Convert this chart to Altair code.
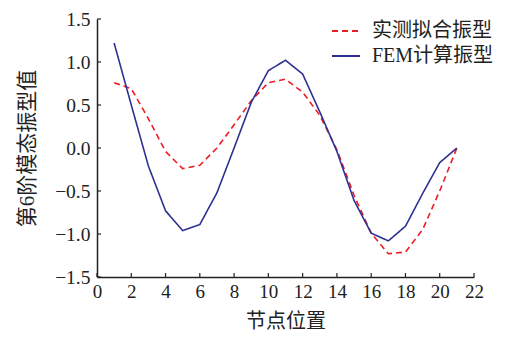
import altair as alt
import pandas as pd

nodes = list(range(1, 22))
measured = [0.76, 0.69, 0.34, -0.04, -0.24, -0.20, 0.0, 0.27, 0.55, 0.76, 0.80,
            0.65, 0.38, -0.02, -0.55, -0.99, -1.23, -1.21, -0.95, -0.50, 0.0]
fem = [1.22, 0.50, -0.21, -0.73, -0.96, -0.89, -0.52, 0.0, 0.53, 0.90, 1.02,
       0.86, 0.42, -0.04, -0.61, -0.99, -1.08, -0.91, -0.53, -0.17, 0.0]
series_names = ["实测拟合振型", "FEM计算振型"]
x_ticks = list(range(0, 23, 2))
y_ticks = [-1.5, -1.0, -0.5, 0.0, 0.5, 1.0, 1.5]

rows = []
for n, a, b in zip(nodes, measured, fem):
    rows.append({"node": n, "value": a, "series": series_names[0]})
    rows.append({"node": n, "value": b, "series": series_names[1]})
df = pd.DataFrame(rows)

W, H = 377, 258
FONT = "Liberation Serif, Noto Sans CJK SC"

xscale = alt.Scale(domain=[0, 22], nice=False, zero=False)
yscale = alt.Scale(domain=[-1.5, 1.5], nice=False, zero=False)

xaxis = alt.Axis(values=x_ticks, title="节点位置", tickSize=0,
                 labelPadding=5, titlePadding=10, grid=False,
                 labelFont=FONT, titleFont=FONT, labelFontSize=19,
                 titleFontSize=20, labelOverlap=False, labelFlush=False)
yaxis = alt.Axis(values=y_ticks, format=".1f", title="第6阶模态振型值",
                 tickSize=0, labelPadding=7, titlePadding=17, grid=False,
                 labelFont=FONT, titleFont=FONT, labelFontSize=19.5,
                 titleFontSize=21, labelOverlap=False, labelFlush=False)

leg = alt.Legend(title=None, orient="none", legendX=234, legendY=-3,
                 symbolType="stroke", symbolSize=784,
                 symbolStrokeWidth=1.8, labelFontSize=20,
                 labelFont=FONT, labelColor="#222",
                 labelOffset=11, rowPadding=0, labelLimit=300)

lines = alt.Chart(df).mark_line(strokeWidth=1.6).encode(
    x=alt.X("node:Q", scale=xscale, axis=xaxis),
    y=alt.Y("value:Q", scale=yscale, axis=yaxis),
    color=alt.Color("series:N",
                    scale=alt.Scale(domain=series_names, range=["#ee1c25", "#2e3192"]),
                    legend=leg),
    strokeDash=alt.StrokeDash("series:N",
                              scale=alt.Scale(domain=series_names, range=[[6, 4], [1, 0]]),
                              legend=leg),
)

xt = pd.DataFrame({"t": x_ticks})
yt = pd.DataFrame({"t": y_ticks})
xticks = alt.Chart(xt).mark_rule(color="#222", strokeWidth=1.2).encode(
    x=alt.X("t:Q", scale=xscale, axis=xaxis), y=alt.value(H), y2=alt.value(H - 4))
yticks = alt.Chart(yt).mark_rule(color="#222", strokeWidth=1.2).encode(
    y=alt.Y("t:Q", scale=yscale, axis=yaxis), x=alt.value(0), x2=alt.value(4))

chart = alt.layer(lines, xticks, yticks).properties(
    width=W, height=H,
    autosize=alt.AutoSizeParams(type="none"),
    padding={"left": 89, "top": 11, "right": 28, "bottom": 53},
    background="white",
).configure_view(stroke=None).configure_axis(
    domainColor="#222", domainWidth=1.5,
    labelColor="#222", titleColor="#222", titleFontWeight="normal",
)

chart.save("out.html", embed_options={"renderer": "svg", "actions": False})
